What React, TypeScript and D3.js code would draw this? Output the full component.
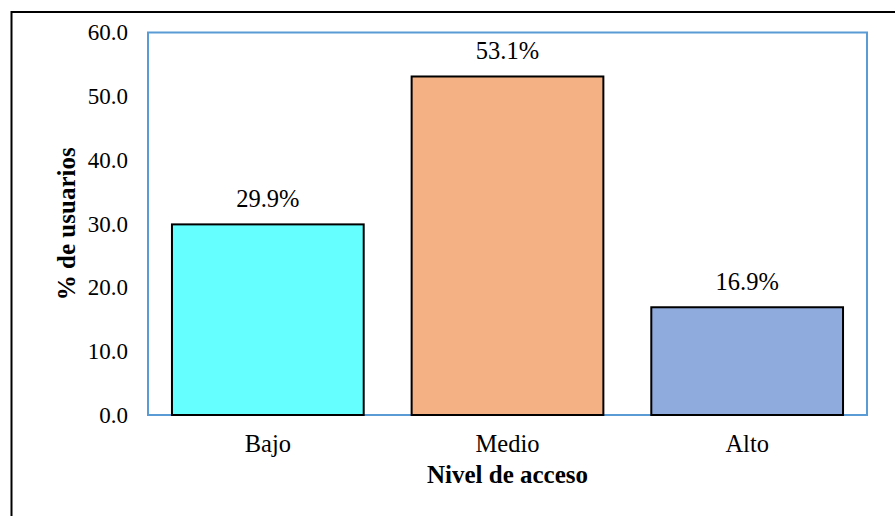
import { useEffect, useRef } from "react"
import * as d3 from "d3"

const categories = ["Bajo", "Medio", "Alto"]
const values = [29.9, 53.1, 16.9]
const colors = ["#66FFFF", "#F4B183", "#8FAADC"]
const yTicks = [0, 10, 20, 30, 40, 50, 60]

export default function App() {
    const svgRef = useRef<SVGSVGElement>(null)

    useEffect(() => {
        if (!svgRef.current) return
        const svgWidth = 895, svgHeight = 516
        const margin = { top: 32.5, right: 28, bottom: 101, left: 148 }
        const w = svgWidth - margin.left - margin.right
        const h = svgHeight - margin.top - margin.bottom
        const font = "Liberation Serif, Times New Roman, serif"

        const svg = d3.select(svgRef.current)
        svg.selectAll("*").remove()
        svg.attr("width", svgWidth).attr("height", svgHeight)
            .style("font-family", font)

        // outer frame (only left/top visible in the picture)
        svg.append("rect")
            .attr("x", 11.5).attr("y", 12)
            .attr("width", 900).attr("height", 520)
            .attr("fill", "none").attr("stroke", "#000").attr("stroke-width", 2)

        const g = svg.append("g").attr("transform", `translate(${margin.left},${margin.top})`)

        const x = d3.scaleBand<string>().domain(categories).range([0, w])
            .paddingInner(0.2).paddingOuter(0.1)
        const y = d3.scaleLinear().domain([0, 60]).range([h, 0])

        // plot area border
        g.append("rect")
            .attr("x", 0).attr("y", 0).attr("width", w).attr("height", h)
            .attr("fill", "none").attr("stroke", "#5B9BD5").attr("stroke-width", 2)

        const yAxis = g.append("g")
            .call(d3.axisLeft(y).tickValues(yTicks).tickSize(0).tickPadding(20).tickFormat(d3.format(".1f")))
        yAxis.attr("font-family", null).attr("font-size", null)
        yAxis.select(".domain").remove()
        yAxis.selectAll("text")
            .style("font-family", font).style("font-size", "23px").attr("fill", "#000")

        const xAxis = g.append("g").attr("transform", `translate(0,${h})`)
            .call(d3.axisBottom(x).tickSize(0))
        xAxis.attr("font-family", null).attr("font-size", null)
        xAxis.select(".domain").remove()
        xAxis.selectAll("text")
            .attr("y", 37).attr("dy", null)
            .style("font-family", font).style("font-size", "24.5px").attr("fill", "#000")

        const data = categories.map((c, i) => ({ c, v: values[i], col: colors[i] }))

        g.selectAll("rect.bar")
            .data(data)
            .join("rect")
            .attr("class", "bar")
            .attr("x", d => x(d.c)!)
            .attr("y", d => y(d.v))
            .attr("width", x.bandwidth())
            .attr("height", d => h - y(d.v))
            .attr("fill", d => d.col)
            .attr("stroke", "#000").attr("stroke-width", 2)

        g.selectAll("text.lbl")
            .data(data)
            .join("text")
            .attr("class", "lbl")
            .attr("x", d => x(d.c)! + x.bandwidth() / 2)
            .attr("y", d => y(d.v) - 17)
            .attr("text-anchor", "middle")
            .style("font-family", font).style("font-size", "24.5px").attr("fill", "#000")
            .text(d => d.v.toFixed(1) + "%")

        svg.append("text")
            .attr("transform", `translate(75,${margin.top + h / 2}) rotate(-90)`)
            .attr("text-anchor", "middle")
            .style("font-family", font).style("font-size", "25px").attr("font-weight", "bold")
            .text("% de usuarios")

        svg.append("text")
            .attr("x", margin.left + w / 2).attr("y", 483)
            .attr("text-anchor", "middle")
            .style("font-family", font).style("font-size", "25px").attr("font-weight", "bold")
            .text("Nivel de acceso")
    }, [])

    return <svg ref={svgRef} style={{ position: "absolute", left: 0, top: 0 }} />
}
